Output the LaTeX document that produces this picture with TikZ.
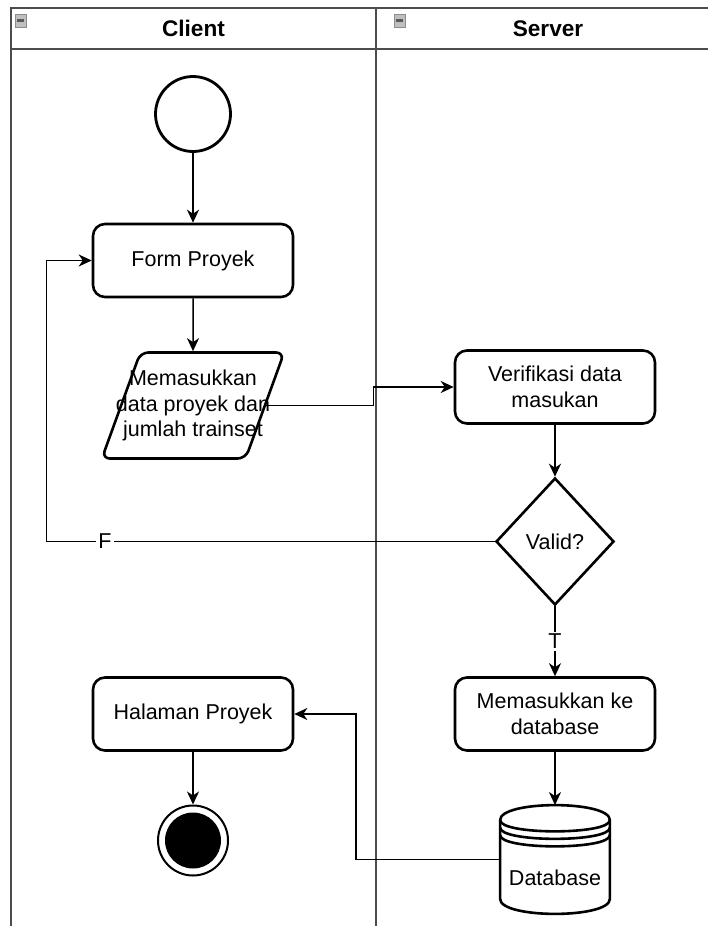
\documentclass[tikz,border=0pt]{standalone}
\usepackage{fontspec}
\setmainfont{Liberation Sans}
\usepackage{tikz}
\usetikzlibrary{shapes,arrows}
\usetikzlibrary{arrows.meta, positioning, shapes.geometric}

\tikzset{
  lane/.style={draw=black!70, line width=1pt},
  lanetitle/.style={font=\fontsize{11.3pt}{13pt}\selectfont\bfseries},
  txt/.style={font=\fontsize{10.75pt}{13pt}\selectfont},
  act/.style={draw, rounded corners=6pt, line width=1.3pt, minimum width=100pt, minimum height=36.5pt, align=center, txt},
  inp/.style={draw, trapezium, trapezium left angle=70, trapezium right angle=110, rounded corners=4pt, line width=1.3pt, minimum height=53pt, inner xsep=-17.5pt, align=center, font=\fontsize{10.75pt}{12.8pt}\selectfont},
  dec/.style={draw, diamond, line width=1.3pt, minimum width=59pt, minimum height=63.5pt, inner sep=0pt, txt},
  startnode/.style={draw, circle, line width=1.4pt, minimum size=37.5pt},
  endnode/.style={draw, circle, line width=1pt, minimum size=35pt, path picture={\fill (path picture bounding box.center) circle (14pt);}},
  store/.style={rectangle, minimum width=54.5pt, minimum height=54pt, inner sep=0pt},
  flow/.style={->, >={Stealth[length=6.5pt,width=6pt,inset=2pt]}, line width=0.75pt},
}

\begin{document}
\begin{tikzpicture}[x=0.5pt, y=-0.5pt]
            \useasboundingbox (0,0) rectangle (708,926);
            % swimlanes
            \draw[lane] (11,926) -- (11,8) -- (708,8);
            \draw[lane] (11,49) -- (708,49);
            \draw[lane] (376,8) -- (376,926);
            \foreach \x in {15,394} {
              \filldraw[fill=black!25, draw=black!45] (\x,14) rectangle ++(11,13);
              \draw[black!65, line width=1.4pt] ({\x+2},20.5) -- ++(7,0);
            }
            \node[lanetitle] (c) at (193.5,28.5) {Client};
            \node[lanetitle] (s) at (548,28.5) {Server};

            \node[startnode] (1) at (193,114) {};
            \node[act] (2) [below of=1, node distance=73.25pt] {Form Proyek};
            \node[inp] (3) [below of=2, node distance=72.5pt] {Memasukkan\\data proyek dan\\jumlah trainset};
            \node[act] (4) [below of=3, node distance=154.25pt] {Halaman Proyek};
            \node[endnode] (5) [below of=4, node distance=63.25pt] {};
            \node[act] (8) [right of=4, node distance=181pt] {Memasukkan ke\\database};
            \node[dec] (7) [above of=8, node distance=86.25pt] {Valid?};
            \node[act] (6) [above of=7, node distance=77.25pt] {Verifikasi data\\masukan};
            \node[store] (9) [below of=8, node distance=72.75pt] {};

            % datastore outline
            \draw[line width=1.3pt, fill=white] ([yshift=-7.5pt]9.north west) .. controls +(0,10pt) and +(0,10pt) .. ([yshift=-7.5pt]9.north east) -- ([yshift=7.5pt]9.south east) .. controls +(0,-10pt) and +(0,-10pt) .. ([yshift=7.5pt]9.south west) -- cycle;
            \foreach \d in {0,3.75,7.5}
              \draw[line width=1.3pt] ([yshift=-7.5pt-\d pt]9.north west) .. controls +(0,-7.5pt) and +(0,-7.5pt) .. ([yshift=-7.5pt-\d pt]9.north east);
            \node[txt] (9t) at ([yshift=-9pt]9.center) {Database};

            \draw[flow] (1) -- (2);
            \draw[flow] (2) -- (3);
            \draw[flow] (3.east) -- ++(53.5pt,0) |- (6.west);
            \draw[flow] (6) -- (7);
            \draw[flow] (7.west) -- node[pos=0.87, fill=white, inner sep=1pt, txt] {F} ([xshift=-22.5pt]2.west |- 7.west) -- ([xshift=-22.5pt]2.west) -- (2.west);
            \draw[flow] (7) -- node[midway, fill=white, inner sep=1pt, txt] {T} (8);
            \draw[flow] (8) -- (9);
            \draw[flow] (9.west) -- ++(-72pt,0) |- (4.east);
            \draw[flow] (4) -- (5);
\end{tikzpicture}
\end{document}
